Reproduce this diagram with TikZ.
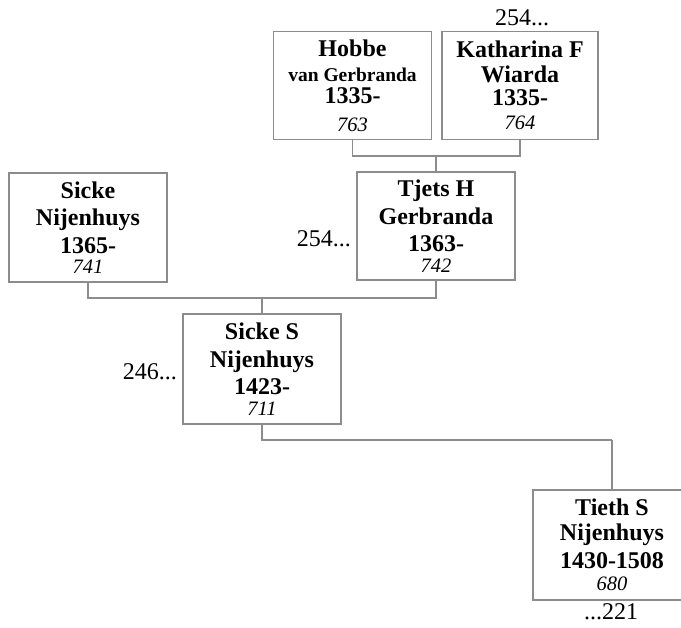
\documentclass[tikz,border=0pt]{standalone}
\usepackage{fontspec}
\setmainfont{Liberation Serif}
\definecolor{ln}{RGB}{140,140,140}
\tikzset{
  pbox/.style={draw=ln, line width=1.3pt, minimum width=158pt, minimum height=108pt, inner sep=0pt, align=center, font=\fontsize{24}{27.5}\selectfont\bfseries},
  conn/.style={draw=ln, line width=1.3pt},
  reftxt/.style={font=\fontsize{24}{27}\selectfont, inner sep=0pt},
}
\newcommand\subname[1]{{\fontsize{19.5}{21}\selectfont #1}}
\newcommand\idnum[1]{{\mdseries\itshape\fontsize{20.5}{22}\selectfont #1}}
\begin{document}
\begin{tikzpicture}[x=1pt,y=-1pt]
\useasboundingbox (0,0) rectangle (681,628);
\fill[white] (0,0) rectangle (681,628);
% boxes
\node[pbox] (hobbe) at (352.5,85.5) {Hobbe\\[-2.5pt]\subname{van Gerbranda}\\[-5pt]1335-\\[0pt]\idnum{763}};
\node[pbox, minimum width=156pt] (kath) at (520,85.5) {Katharina F\\[-3pt]Wiarda\\[-4.5pt]1335-\\[-3pt]\idnum{764}};
\node[pbox] (tjets) at (436,226) {Tjets H\\Gerbranda\\1363-\\[-7pt]\idnum{742}};
\node[pbox, minimum height=109pt] (sicke) at (88,227.5) {Sicke\\Nijenhuys\\1365-\\[-7pt]\idnum{741}};
\node[pbox, minimum height=110pt] (sickes) at (262,369) {Sicke S\\Nijenhuys\\1423-\\[-7pt]\idnum{711}};
\node[pbox, minimum height=110pt] (tieth) at (612,545) {Tieth S\\[-2.5pt]Nijenhuys\\1430-1508\\[-5pt]\idnum{680}};
% reference labels
\node[reftxt] (r1) at (522,18) {254...};
\node[reftxt, anchor=east] (r2) at (351,239) {254...};
\node[reftxt, anchor=east] (r3) at (177,372) {246...};
\node[reftxt] (r4) at (611,612) {...221};
% connectors
\coordinate (j1) at (tjets.north |- 0,156);
\draw[conn] (hobbe.south) |- (j1) -| (kath.south);
\draw[conn] (j1) -- (tjets.north);
\coordinate (j2) at (sickes.north |- 0,298);
\draw[conn] (sicke.south) |- (j2) -| (tjets.south);
\draw[conn] (j2) -- (sickes.north);
\coordinate (j3) at (tieth.north |- 0,440);
\draw[conn] (sickes.south) |- (j3);
\draw[conn] (j3) -- (tieth.north);
\end{tikzpicture}
\end{document}
